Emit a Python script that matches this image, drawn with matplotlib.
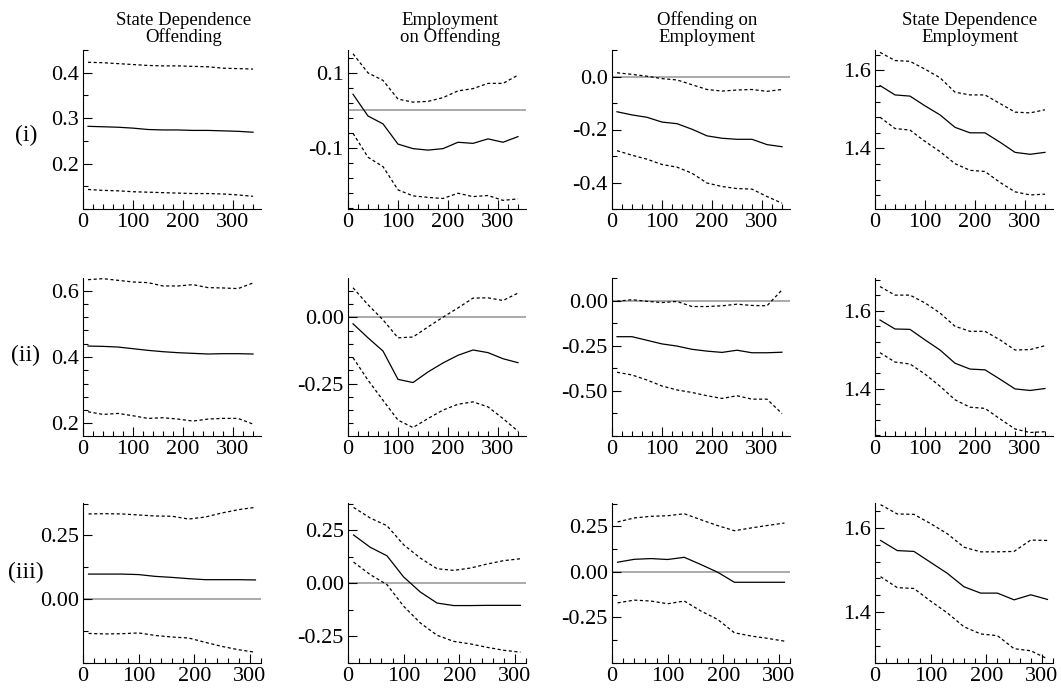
import numpy as np
import matplotlib
matplotlib.use("Agg")
import matplotlib.pyplot as plt
from matplotlib.ticker import FixedLocator, MultipleLocator

plt.rcParams['font.family'] = ['Liberation Serif', 'DejaVu Serif']
plt.rcParams['axes.unicode_minus'] = False

# ==============================
# DATA (estimate, upper band, lower band)
# ==============================
x_long = [10, 40, 70, 100, 130, 160, 190, 220, 250, 280, 310, 340]
x_short = [10, 40, 70, 100, 130, 160, 190, 220, 250, 280, 310]

col_titles = ["State Dependence\nOffending", "Employment\non Offending",
              "Offending on\nEmployment", "State Dependence\nEmployment"]
row_labels = ["(i)", "(ii)", "(iii)"]

# row (i)
sdo_i = [0.282, 0.281, 0.280, 0.278, 0.275, 0.274, 0.274, 0.273, 0.273, 0.272, 0.271, 0.269]
sdo_i_hi = [0.423, 0.422, 0.420, 0.418, 0.416, 0.415, 0.415, 0.414, 0.413, 0.410, 0.409, 0.408]
sdo_i_lo = [0.143, 0.141, 0.140, 0.138, 0.137, 0.136, 0.135, 0.134, 0.134, 0.133, 0.131, 0.128]

eoo_i = [0.043, -0.015, -0.036, -0.090, -0.102, -0.106, -0.102, -0.085, -0.088, -0.076, -0.085, -0.070]
eoo_i_hi = [0.151, 0.100, 0.080, 0.030, 0.022, 0.024, 0.034, 0.052, 0.058, 0.072, 0.072, 0.094]
eoo_i_lo = [-0.061, -0.125, -0.150, -0.212, -0.228, -0.232, -0.235, -0.221, -0.230, -0.227, -0.240, -0.236]

ooe_i = [-0.133, -0.145, -0.154, -0.172, -0.178, -0.199, -0.224, -0.233, -0.237, -0.237, -0.257, -0.265]
ooe_i_hi = [0.014, 0.008, 0.001, -0.008, -0.013, -0.031, -0.049, -0.055, -0.051, -0.049, -0.056, -0.049]
ooe_i_lo = [-0.280, -0.297, -0.312, -0.332, -0.342, -0.365, -0.402, -0.415, -0.423, -0.425, -0.453, -0.478]

sde_i = [1.561, 1.537, 1.534, 1.509, 1.486, 1.454, 1.440, 1.440, 1.416, 1.390, 1.385, 1.390]
sde_i_hi = [1.646, 1.625, 1.623, 1.603, 1.581, 1.544, 1.537, 1.537, 1.515, 1.493, 1.491, 1.499]
sde_i_lo = [1.480, 1.451, 1.447, 1.418, 1.392, 1.361, 1.344, 1.341, 1.313, 1.289, 1.281, 1.283]

# row (ii)
sdo_ii = [0.433, 0.432, 0.430, 0.425, 0.420, 0.416, 0.413, 0.411, 0.409, 0.410, 0.410, 0.409]
sdo_ii_hi = [0.633, 0.636, 0.631, 0.626, 0.624, 0.614, 0.614, 0.618, 0.609, 0.608, 0.606, 0.623]
sdo_ii_lo = [0.235, 0.227, 0.230, 0.223, 0.215, 0.217, 0.213, 0.207, 0.213, 0.215, 0.215, 0.198]

eoo_ii = [-0.024, -0.077, -0.127, -0.234, -0.246, -0.206, -0.172, -0.143, -0.123, -0.133, -0.156, -0.171]
eoo_ii_hi = [0.112, 0.048, -0.009, -0.077, -0.074, -0.036, 0.001, 0.036, 0.073, 0.074, 0.064, 0.092]
eoo_ii_lo = [-0.152, -0.237, -0.313, -0.388, -0.416, -0.382, -0.350, -0.328, -0.319, -0.338, -0.382, -0.430]

ooe_ii = [-0.200, -0.200, -0.220, -0.240, -0.252, -0.270, -0.280, -0.287, -0.275, -0.289, -0.289, -0.286]
ooe_ii_hi = [-0.004, 0.005, -0.004, -0.011, -0.005, -0.033, -0.033, -0.029, -0.020, -0.027, -0.029, 0.059]
ooe_ii_lo = [-0.397, -0.412, -0.440, -0.473, -0.495, -0.509, -0.527, -0.542, -0.527, -0.546, -0.546, -0.626]

sde_ii = [1.576, 1.553, 1.552, 1.525, 1.499, 1.465, 1.450, 1.448, 1.424, 1.399, 1.395, 1.400]
sde_ii_hi = [1.662, 1.640, 1.640, 1.620, 1.594, 1.560, 1.547, 1.547, 1.525, 1.499, 1.500, 1.510]
sde_ii_lo = [1.492, 1.468, 1.463, 1.437, 1.406, 1.371, 1.352, 1.349, 1.322, 1.296, 1.287, 1.289]

# row (iii)
sdo_iii = [0.098, 0.098, 0.098, 0.096, 0.089, 0.085, 0.080, 0.076, 0.076, 0.076, 0.075]
sdo_iii_hi = [0.334, 0.335, 0.334, 0.330, 0.326, 0.325, 0.314, 0.322, 0.338, 0.351, 0.360]
sdo_iii_lo = [-0.135, -0.137, -0.136, -0.133, -0.143, -0.149, -0.153, -0.170, -0.186, -0.199, -0.209]

eoo_iii = [0.228, 0.170, 0.130, 0.030, -0.041, -0.093, -0.105, -0.105, -0.104, -0.104, -0.104]
eoo_iii_hi = [0.358, 0.308, 0.272, 0.182, 0.119, 0.069, 0.061, 0.072, 0.091, 0.107, 0.116]
eoo_iii_lo = [0.100, 0.041, -0.006, -0.108, -0.187, -0.245, -0.274, -0.286, -0.302, -0.316, -0.325]

ooe_iii = [0.053, 0.069, 0.073, 0.068, 0.080, 0.040, -0.002, -0.057, -0.057, -0.057, -0.057]
ooe_iii_hi = [0.274, 0.296, 0.305, 0.308, 0.319, 0.286, 0.254, 0.226, 0.241, 0.255, 0.268]
ooe_iii_lo = [-0.170, -0.155, -0.160, -0.175, -0.160, -0.215, -0.261, -0.334, -0.352, -0.365, -0.380]

sde_iii = [1.570, 1.546, 1.544, 1.518, 1.492, 1.460, 1.445, 1.445, 1.429, 1.441, 1.430]
sde_iii_hi = [1.655, 1.633, 1.632, 1.610, 1.586, 1.554, 1.543, 1.543, 1.544, 1.571, 1.570]
sde_iii_lo = [1.484, 1.458, 1.456, 1.426, 1.398, 1.365, 1.348, 1.344, 1.313, 1.308, 1.289]

series = [
    [(sdo_i, sdo_i_hi, sdo_i_lo), (eoo_i, eoo_i_hi, eoo_i_lo),
     (ooe_i, ooe_i_hi, ooe_i_lo), (sde_i, sde_i_hi, sde_i_lo)],
    [(sdo_ii, sdo_ii_hi, sdo_ii_lo), (eoo_ii, eoo_ii_hi, eoo_ii_lo),
     (ooe_ii, ooe_ii_hi, ooe_ii_lo), (sde_ii, sde_ii_hi, sde_ii_lo)],
    [(sdo_iii, sdo_iii_hi, sdo_iii_lo), (eoo_iii, eoo_iii_hi, eoo_iii_lo),
     (ooe_iii, ooe_iii_hi, ooe_iii_lo), (sde_iii, sde_iii_hi, sde_iii_lo)],
]

# axis settings: ylim, major ticks, tick format, minor start, minor step
yaxes = [
    [((0.10, 0.45), [0.2, 0.3, 0.4], "%.1f", 0.10, 0.05),
     ((-0.263, 0.161), [-0.1, 0.1], "%.1f", -0.26, 0.04),
     ((-0.50, 0.10), [-0.4, -0.2, 0.0], "%.1f", -0.5, 0.1),
     ((1.245, 1.652), [1.4, 1.6], "%.1f", 1.24, 0.04)],
    [((0.162, 0.638), [0.2, 0.4, 0.6], "%.1f", 0.16, 0.04),
     ((-0.448, 0.149), [-0.25, 0.0], "%.2f", -0.45, 0.05),
     ((-0.75, 0.125), [-0.5, -0.25, 0.0], "%.2f", -0.75, 0.125),
     ((1.278, 1.684), [1.4, 1.6], "%.1f", 1.28, 0.04)],
    [((-0.251, 0.377), [0.0, 0.25], "%.2f", -0.25, 0.125),
     ((-0.376, 0.379), [-0.25, 0.0, 0.25], "%.2f", -0.375, 0.125),
     ((-0.50, 0.378), [-0.25, 0.0, 0.25], "%.2f", -0.5, 0.125),
     ((1.279, 1.659), [1.4, 1.6], "%.1f", 1.28, 0.04)],
]
zero_line = [[False, True, True, False],
             [False, True, True, False],
             [True, True, True, False]]

# ==============================
# FIGURE
# ==============================
W, H = 1061, 690
fig = plt.figure(figsize=(W / 100, H / 100), dpi=100)

col_left = [83, 348, 612, 875]
row_top = [50, 278, 503]
row_bot = [209, 436, 663]
ax_w = 178

for r in range(3):
    xs = x_long if r < 2 else x_short
    xmax = 356 if r < 2 else 320
    for c in range(4):
        ax = fig.add_axes([col_left[c] / W, 1 - row_bot[r] / H,
                           ax_w / W, (row_bot[r] - row_top[r]) / H])
        est, hi, lo = series[r][c]
        ylim, major, fmt, mstart, mstep = yaxes[r][c]
        if zero_line[r][c]:
            ax.axhline(0, color='#aaaaaa', lw=1.4, zorder=1)
        ax.plot(xs, est, color='black', lw=0.9, zorder=3)
        ax.plot(xs, hi, color='black', lw=0.9, ls=(0, (2.5, 2)), zorder=3)
        ax.plot(xs, lo, color='black', lw=0.9, ls=(0, (2.5, 2)), zorder=3)

        ax.set_xlim(0, xmax)
        ax.set_ylim(*ylim)
        ax.set_xticks([0, 100, 200, 300])
        ax.xaxis.set_minor_locator(MultipleLocator(20))
        ax.set_yticks(major)
        ax.set_yticklabels([fmt % v for v in major])
        ax.yaxis.set_minor_locator(FixedLocator(np.arange(mstart, ylim[1] + 1e-9, mstep)))

        for s in ['top', 'right']:
            ax.spines[s].set_visible(False)
        for s in ['left', 'bottom']:
            ax.spines[s].set_linewidth(0.8)
        ax.tick_params(which='both', direction='in', width=0.8, labelsize=16, pad=3)
        ax.tick_params(which='major', length=6.5)
        ax.tick_params(which='minor', length=3.5)

# column titles and row labels
title_x = [184, 450, 707, 970]
for c in range(4):
    fig.text(title_x[c] / W, 1 - 29 / H, col_titles[c], ha='center', va='center',
             fontsize=13.5, linespacing=1.0)

label_y = [135, 355, 572]
for r in range(3):
    fig.text(26 / W, 1 - label_y[r] / H, row_labels[r], ha='center', va='center', fontsize=17)

plt.savefig("out.png", dpi=100)
